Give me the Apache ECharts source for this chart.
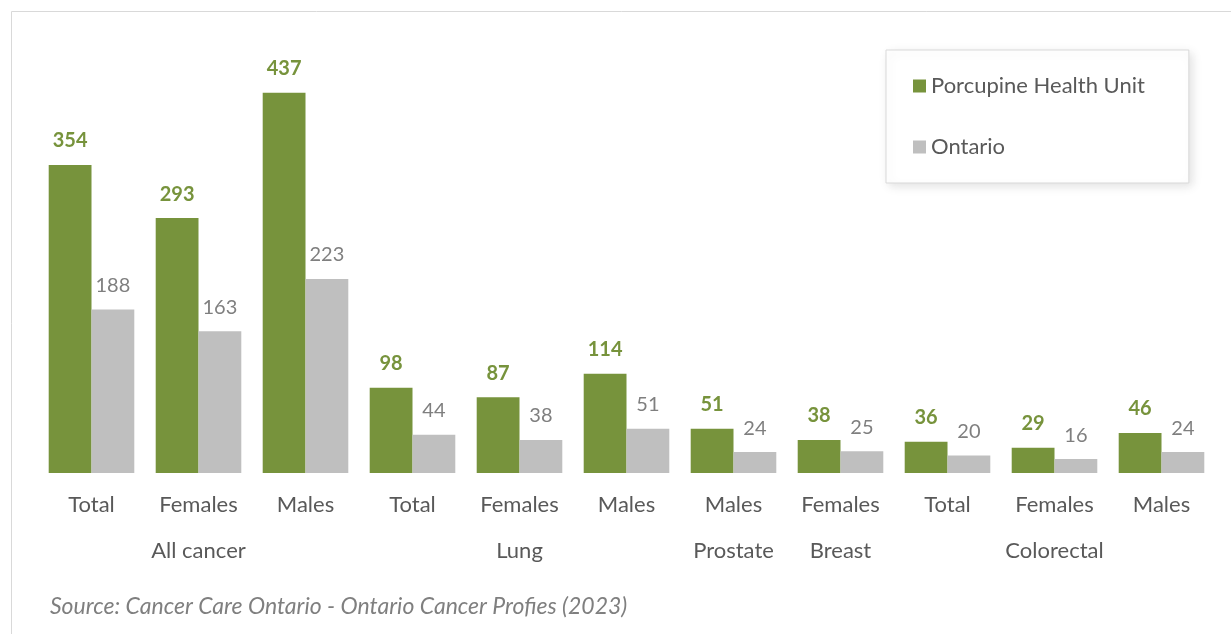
<!DOCTYPE html>
<html>
<head>
<meta charset="utf-8">
<script src="https://cdn.jsdelivr.net/npm/echarts@6/dist/echarts.min.js"></script>
<style>
  html, body { margin: 0; padding: 0; background: #fff; }
  #chart { width: 1231px; height: 634px; }
</style>
</head>
<body>
<div id="chart"></div>
<script>
// data
const categories = ['Total', 'Females', 'Males', 'Total', 'Females', 'Males', 'Males', 'Females', 'Total', 'Females', 'Males'];
const groups = ['', 'All cancer', '', '', 'Lung', '', 'Prostate', 'Breast', '', 'Colorectal', ''];
const porcupine = [354, 293, 437, 98, 87, 114, 51, 38, 36, 29, 46];
const ontario = [188, 163, 223, 44, 38, 51, 24, 25, 20, 16, 24];
const seriesNames = ['Porcupine Health Unit', 'Ontario'];

const font = 'Lato, "Open Sans", sans-serif';
const chart = echarts.init(document.getElementById('chart'));

chart.setOption({
  animation: false,
  textStyle: { fontFamily: font },
  grid: { left: 38, right: 16, top: 38, bottom: 161 },
  legend: {
    orient: 'vertical',
    left: 886, top: 50,
    padding: [25, 44, 25, 27],
    itemGap: 39,
    itemWidth: 13, itemHeight: 13,
    icon: 'rect',
    backgroundColor: '#fff',
    borderColor: '#d9d9d9',
    borderWidth: 1,
    shadowColor: 'rgba(0,0,0,0.12)',
    shadowBlur: 10,
    shadowOffsetX: 3, shadowOffsetY: 3,
    textStyle: { fontSize: 22, color: '#595959', fontFamily: font },
    data: seriesNames
  },
  xAxis: [
    {
      type: 'category',
      data: categories,
      axisLine: { show: false },
      axisTick: { show: false },
      axisLabel: { fontSize: 22, color: '#595959', margin: 21, interval: 0 }
    },
    {
      type: 'category',
      data: groups,
      position: 'bottom',
      offset: 46,
      axisLine: { show: false },
      axisTick: { show: false },
      axisLabel: { fontSize: 22, color: '#595959', margin: 21, interval: 0 }
    }
  ],
  yAxis: { type: 'value', min: 0, max: 500, show: false },
  series: [
    {
      name: seriesNames[0],
      type: 'bar',
      data: porcupine,
      barGap: '0%',
      barCategoryGap: '20%',
      itemStyle: { color: '#77933c' },
      label: {
        show: true, position: 'top', distance: 14,
        fontSize: 20, fontWeight: 'bold', color: '#77933c'
      }
    },
    {
      name: seriesNames[1],
      type: 'bar',
      data: ontario,
      barGap: '0%',
      barCategoryGap: '20%',
      itemStyle: { color: '#bfbfbf' },
      label: {
        show: true, position: 'top', distance: 14,
        fontSize: 20, color: '#7f7f7f'
      }
    }
  ],
  graphic: [
    {
      type: 'rect', left: 9, top: 9, silent: true,
      shape: { width: 1300, height: 700 },
      style: { fill: 'none', stroke: '#d9d9d9', lineWidth: 1 }
    },
    {
      type: 'text', left: 50, top: 595,
      style: {
        text: 'Source: Cancer Care Ontario - Ontario Cancer Profies (2023)',
        fontSize: 23, fontStyle: 'italic', fill: '#7f7f7f', fontFamily: font
      }
    }
  ]
});
</script>
</body>
</html>
